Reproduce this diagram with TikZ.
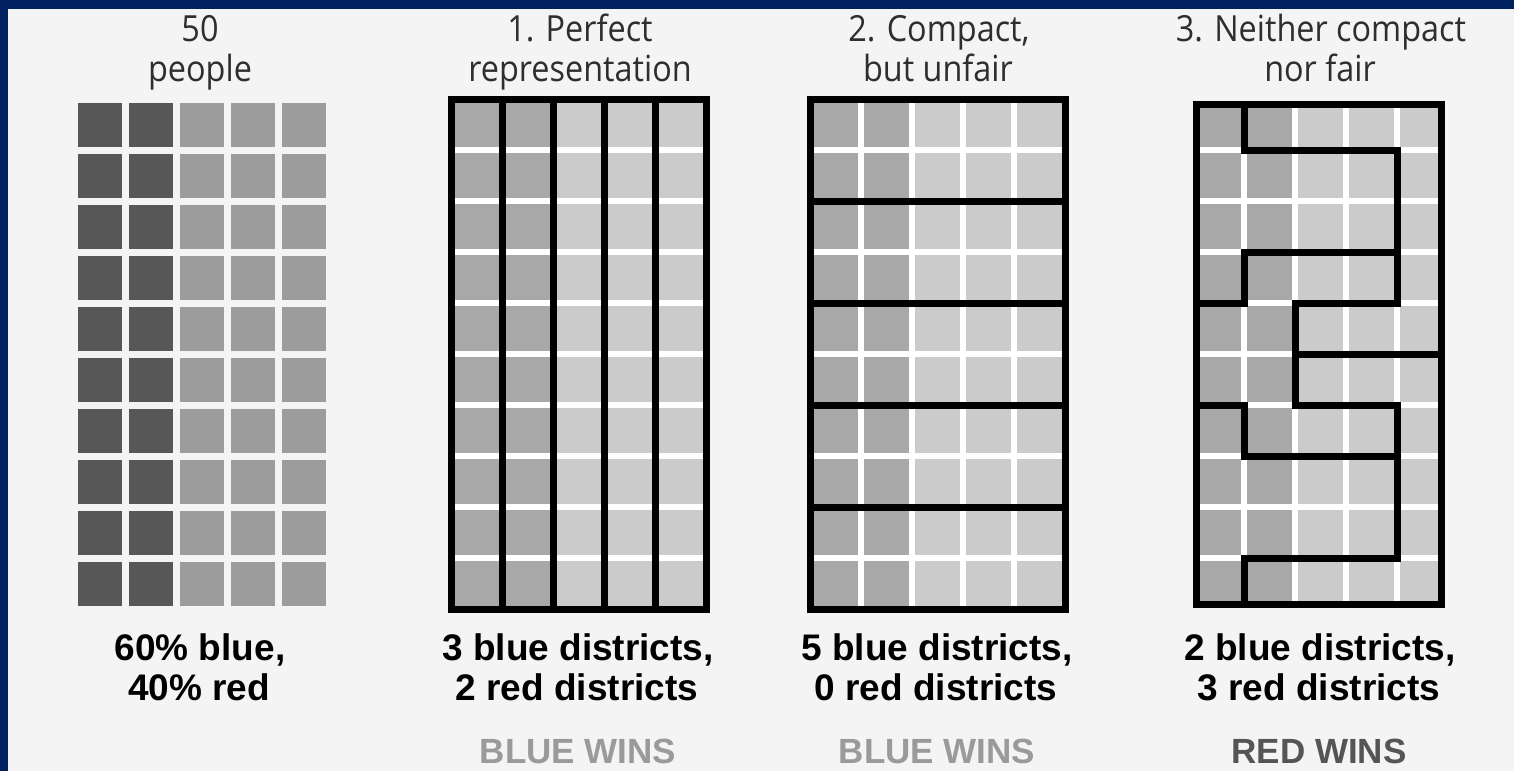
\documentclass[tikz,border=0pt]{standalone}
\usepackage{fontspec}
\newfontfamily\headfont{Open Sans}[FakeStretch=0.9]
\newfontfamily\resfont{Liberation Sans}
\definecolor{framenavy}{HTML}{00205F}
\definecolor{bgcol}{HTML}{F4F4F4}
\definecolor{pdark}{HTML}{575757}
\definecolor{plight}{HTML}{9C9C9C}
\definecolor{cblue}{HTML}{A8A8A8}
\definecolor{cred}{HTML}{CBCBCB}
\definecolor{headgray}{HTML}{2E2E2E}
\definecolor{bluewin}{HTML}{9A9A9A}
\definecolor{redwin}{HTML}{555555}
\newcommand\cellgrid[2]{%
  \fill[white] (#1,#2) rectangle ++(255,510);
  \foreach \c in {0,...,4}{\foreach \r in {0,...,9}{%
    \ifnum\c<2 \def\col{cblue}\else\def\col{cred}\fi
    \fill[\col] ({#1+51*\c+3},{#2+51*\r+3}) rectangle ++(45,45);
  }}}
\tikzset{
  distr/.style={line width=7pt, line join=miter, draw=black},
  head/.style={font=\headfont\fontsize{36}{36}\selectfont, text=headgray, anchor=base, inner sep=0pt},
  res/.style={font=\resfont\bfseries\fontsize{37}{37}\selectfont, text=black, anchor=base, inner sep=0pt},
  win/.style={font=\resfont\bfseries\fontsize{35}{35}\selectfont, anchor=base, inner sep=0pt}
}
\begin{document}
\begin{tikzpicture}[x=1pt,y=-1pt]
\useasboundingbox (0,0) rectangle (1514,771);
\fill[framenavy] (0,0) rectangle (1514,771);
\fill[bgcol] (8,9) rectangle (1514,771);

% panel 1: 50 people
\foreach \c in {0,...,4}{\foreach \r in {0,...,9}{%
  \ifnum\c<2 \def\col{pdark}\else\def\col{plight}\fi
  \fill[\col] ({78+51*\c},{103+51*\r}) rectangle ++(44,44);
}}

% panel 2: perfect representation
\cellgrid{451.5}{99}
\foreach \k in {1,...,4}{\draw[distr] ({451.5+51*\k},99) -- ({451.5+51*\k},609);}
\draw[distr] (451.5,99) rectangle (706.5,609);

% panel 3: compact but unfair
\cellgrid{810}{99}
\foreach \k in {2,4,6,8}{\draw[distr] (810,{99+51*\k}) -- (1065,{99+51*\k});}
\draw[distr] (810,99) rectangle (1065,609);

% panel 4: neither compact nor fair
\begin{scope}
  \clip (1196,104) rectangle (1441,604);
  \cellgrid{1193}{99}
\end{scope}
\draw[distr] (1244,104) -- (1244,150) -- (1397,150) -- (1397,252) -- (1244,252) -- (1244,303) -- (1196,303);
\draw[distr] (1397,252) -- (1397,303) -- (1295,303) -- (1295,405) -- (1397,405) -- (1397,558) -- (1244,558) -- (1244,604);
\draw[distr] (1295,354) -- (1441,354);
\draw[distr] (1196,405) -- (1244,405) -- (1244,456) -- (1397,456);
\draw[distr] (1196,104) rectangle (1441,604);

% headers
\node[head] (h1a) at (200,41) {50};
\node[head] (h1b) at (200,81) {people};
\node[head] (h2a) at (580,41) {1. Perfect};
\node[head] (h2b) at (580,81) {representation};
\node[head] (h3a) at (939,41) {2. Compact,};
\node[head] (h3b) at (938,81) {but unfair};
\node[head] (h4a) at (1321,41) {3. Neither compact};
\node[head] (h4b) at (1320,81) {nor fair};

% results
\node[res] (r1a) at (200,660) {60\% blue,};
\node[res] (r1b) at (199,700) {40\% red};
\node[res] (r2a) at (578,660) {3 blue districts,};
\node[res] (r2b) at (577,700) {2 red districts};
\node[res] (r3a) at (937,660) {5 blue districts,};
\node[res] (r3b) at (936,700) {0 red districts};
\node[res] (r4a) at (1320,660) {2 blue districts,};
\node[res] (r4b) at (1319,700) {3 red districts};

\node[win, text=bluewin] (w2) at (578,763) {BLUE WINS};
\node[win, text=bluewin] (w3) at (937,763) {BLUE WINS};
\node[win, text=redwin] (w4) at (1319,763) {RED WINS};
\end{tikzpicture}
\end{document}
